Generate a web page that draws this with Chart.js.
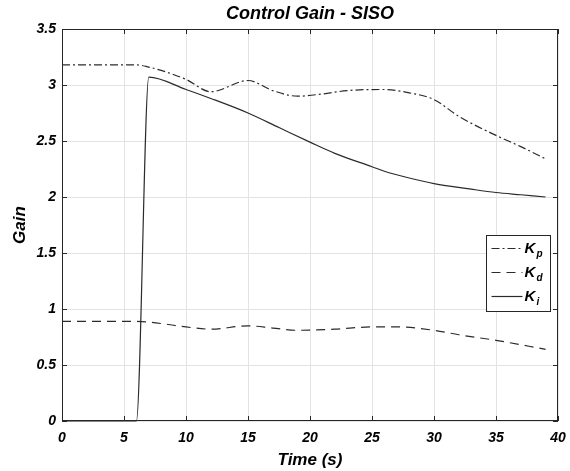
<!DOCTYPE html>
<html>
<head>
<meta charset="utf-8">
<script src="https://cdn.jsdelivr.net/npm/chart.js@4"></script>
<style>
    body { margin: 0; background: #fff; }
    #wrap { width: 570px; height: 471px; }
</style>
</head>
<body>
<div id="wrap"><canvas id="gainChart" width="570" height="471"></canvas></div>
<script>
// Gain schedules (time in s)
const kpTime = [0, 6, 7, 8, 10, 12, 15, 17, 19, 21, 23, 26, 28, 30, 32, 35, 37, 39];
const kpValues = [3.18, 3.18, 3.16, 3.13, 3.05, 2.94, 3.04, 2.95, 2.90, 2.92, 2.95, 2.96, 2.93, 2.87, 2.72, 2.55, 2.45, 2.34];

const kdTime = [0, 6, 8, 10, 12, 15, 17, 19, 22, 25, 27, 30, 32, 35, 39];
const kdValues = [0.89, 0.89, 0.87, 0.84, 0.82, 0.85, 0.83, 0.81, 0.82, 0.84, 0.84, 0.81, 0.77, 0.72, 0.64];

const kiTime = [0, 6, 7, 10, 12, 15, 17.5, 20, 22, 25, 26, 28, 30, 33, 35, 37, 39];
const kiValues = [0, 0, 3.07, 2.96, 2.88, 2.75, 2.62, 2.49, 2.39, 2.27, 2.23, 2.17, 2.12, 2.07, 2.04, 2.02, 2.00];

const xTicks = [0, 5, 10, 15, 20, 25, 30, 35, 40];
const yTicks = [0, 0.5, 1, 1.5, 2, 2.5, 3, 3.5];

const seriesNames = ['p', 'd', 'i'];

const lineColor = '#2b2b2b';
const fontFamily = '"Liberation Sans", Arial, sans-serif';

const toPoints = (xs, ys) => xs.map((x, i) => ({ x: x, y: ys[i] }));

// axes box, inward ticks and title, matlab style
const framePlugin = {
    id: 'frame',
    afterDraw(chart) {
        const { ctx, chartArea: a, scales } = chart;
        ctx.save();
        ctx.strokeStyle = '#262626';
        ctx.lineWidth = 1;
        ctx.strokeRect(a.left + 0.5, a.top + 0.5, a.right - a.left - 1, a.bottom - a.top - 1);
        const t = 5;
        ctx.beginPath();
        xTicks.forEach(v => {
            const px = Math.round(scales.x.getPixelForValue(v)) + 0.5;
            ctx.moveTo(px, a.bottom); ctx.lineTo(px, a.bottom - t);
            ctx.moveTo(px, a.top); ctx.lineTo(px, a.top + t);
        });
        yTicks.forEach(v => {
            const py = Math.round(scales.y.getPixelForValue(v)) + 0.5;
            ctx.moveTo(a.left, py); ctx.lineTo(a.left + t, py);
            ctx.moveTo(a.right, py); ctx.lineTo(a.right - t, py);
        });
        ctx.stroke();

        ctx.fillStyle = '#000';
        ctx.font = 'italic bold 18px ' + fontFamily;
        ctx.textAlign = 'center';
        ctx.textBaseline = 'middle';
        ctx.fillText('Control Gain - SISO', (a.left + a.right) / 2, 14);
        ctx.restore();
    }
};

// legend box with subscripts
const legendPlugin = {
    id: 'subLegend',
    afterDraw(chart) {
        const { ctx } = chart;
        const box = { x: 486.5, y: 235.5, w: 64, h: 76 };
        ctx.save();
        ctx.fillStyle = '#fff';
        ctx.fillRect(box.x, box.y, box.w, box.h);
        ctx.strokeStyle = '#262626';
        ctx.lineWidth = 1;
        ctx.strokeRect(box.x, box.y, box.w, box.h);
        chart.data.datasets.forEach((ds, i) => {
            const y = box.y + 13 + i * 24;
            ctx.beginPath();
            ctx.setLineDash(ds.borderDash || []);
            ctx.strokeStyle = lineColor;
            ctx.lineWidth = 1.2;
            ctx.moveTo(box.x + 5, y);
            ctx.lineTo(box.x + 36, y);
            ctx.stroke();
            ctx.setLineDash([]);
            ctx.fillStyle = '#000';
            ctx.textAlign = 'left';
            ctx.textBaseline = 'middle';
            ctx.font = 'italic bold 15px ' + fontFamily;
            ctx.fillText('K', box.x + 38, y);
            ctx.font = 'italic bold 10px ' + fontFamily;
            ctx.fillText(seriesNames[i], box.x + 50, y + 6);
        });
        ctx.restore();
    }
};

const commonLine = {
    borderColor: lineColor,
    borderWidth: 1.2,
    pointRadius: 0,
    fill: false,
    clip: false,
    cubicInterpolationMode: 'monotone'
};

new Chart(document.getElementById('gainChart'), {
    type: 'line',
    data: {
        datasets: [
            Object.assign({ label: 'Kp', data: toPoints(kpTime, kpValues), borderDash: [8, 3, 2, 3] }, commonLine),
            Object.assign({ label: 'Kd', data: toPoints(kdTime, kdValues), borderDash: [9, 6] }, commonLine),
            Object.assign({ label: 'Ki', data: toPoints(kiTime, kiValues), borderWidth: 1.5 }, commonLine)
        ]
    },
    options: {
        responsive: false,
        animation: false,
        layout: { padding: { top: 29, right: 12, left: 0, bottom: 0 } },
        plugins: {
            legend: { display: false },
            title: { display: false },
            tooltip: { enabled: false }
        },
        scales: {
            x: {
                type: 'linear',
                min: 0,
                max: 40,
                afterBuildTicks: (scale) => { scale.ticks = xTicks.map(v => ({ value: v })); },
                afterFit: (scale) => { scale.height = 50; scale.paddingRight = 0; },
                grid: { color: '#e3e3e3', drawTicks: false },
                border: { display: false },
                ticks: {
                    color: '#000',
                    padding: 9,
                    maxRotation: 0,
                    callback: (v) => String(v),
                    font: { family: fontFamily, size: 14, style: 'italic', weight: 'bold' }
                },
                title: {
                    display: true,
                    text: 'Time (s)',
                    color: '#000',
                    padding: { top: 0, bottom: 0 },
                    font: { family: fontFamily, size: 17, style: 'italic', weight: 'bold' }
                }
            },
            y: {
                min: 0,
                max: 3.5,
                afterBuildTicks: (scale) => { scale.ticks = yTicks.map(v => ({ value: v })); },
                afterFit: (scale) => { scale.width = 62; },
                grid: { color: '#e3e3e3', drawTicks: false },
                border: { display: false },
                ticks: {
                    color: '#000',
                    padding: 6,
                    callback: (v) => String(v),
                    font: { family: fontFamily, size: 14, style: 'italic', weight: 'bold' }
                },
                title: {
                    display: true,
                    text: 'Gain',
                    color: '#000',
                    padding: { top: 10, bottom: 0 },
                    font: { family: fontFamily, size: 17, style: 'italic', weight: 'bold' }
                }
            }
        }
    },
    plugins: [framePlugin, legendPlugin]
});
</script>
</body>
</html>
